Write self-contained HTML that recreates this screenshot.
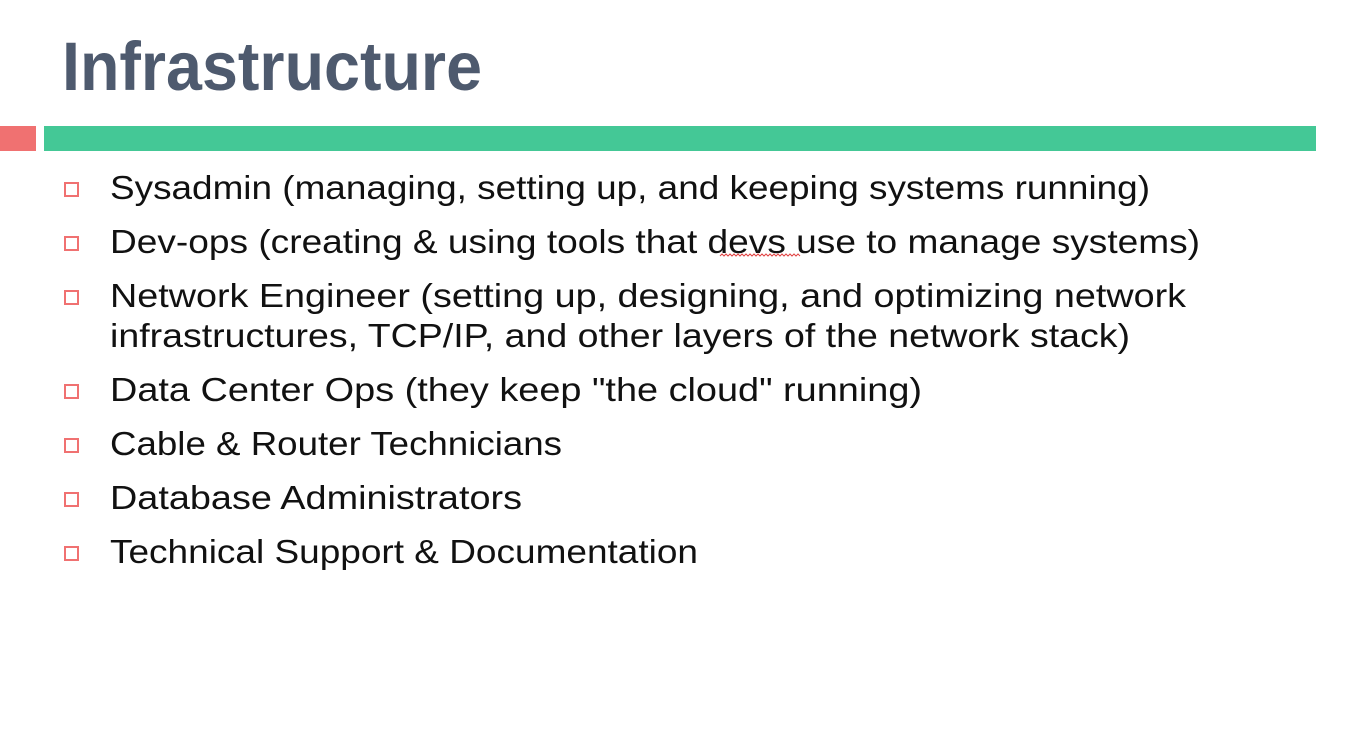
<!DOCTYPE html>
<html><head><meta charset="utf-8"><style>
html,body{margin:0;padding:0;background:#fff;width:1348px;height:750px;overflow:hidden}
svg{display:block}
text{font-family:"Liberation Sans",sans-serif}
</style></head><body>
<svg width="1348" height="750" viewBox="0 0 1348 750" xmlns="http://www.w3.org/2000/svg">
<text x="62" y="90" font-size="69" font-weight="bold" fill="#4e5a6e" textLength="420" lengthAdjust="spacingAndGlyphs">Infrastructure</text>
<rect x="0" y="126" width="36" height="25" fill="#f07171"/>
<rect x="44" y="126" width="1272" height="25" fill="#44c896"/>
<g fill="none" stroke="#f07171" stroke-width="2">
<rect x="65" y="183" width="13" height="13"/>
<rect x="65" y="237" width="13" height="13"/>
<rect x="65" y="291" width="13" height="13"/>
<rect x="65" y="385" width="13" height="13"/>
<rect x="65" y="439" width="13" height="13"/>
<rect x="65" y="493" width="13" height="13"/>
<rect x="65" y="547" width="13" height="13"/>
</g>
<g font-size="33" fill="#111">
<text x="110" y="199" textLength="1040" lengthAdjust="spacingAndGlyphs">Sysadmin (managing, setting up, and keeping systems running)</text>
<text x="110" y="253" textLength="1090" lengthAdjust="spacingAndGlyphs">Dev-ops (creating &amp; using tools that devs use to manage systems)</text>
<text x="110" y="307" textLength="1076" lengthAdjust="spacingAndGlyphs">Network Engineer (setting up, designing, and optimizing network</text>
<text x="110" y="347" textLength="1020" lengthAdjust="spacingAndGlyphs">infrastructures, TCP/IP, and other layers of the network stack)</text>
<text x="110" y="401" textLength="812" lengthAdjust="spacingAndGlyphs">Data Center Ops (they keep "the cloud" running)</text>
<text x="110" y="455" textLength="452" lengthAdjust="spacingAndGlyphs">Cable &amp; Router Technicians</text>
<text x="110" y="509" textLength="412" lengthAdjust="spacingAndGlyphs">Database Administrators</text>
<text x="110" y="563" textLength="588" lengthAdjust="spacingAndGlyphs">Technical Support &amp; Documentation</text>
</g>
<path d="M720 256 l2 -2 l2 2 l2 -2 l2 2 l2 -2 l2 2 l2 -2 l2 2 l2 -2 l2 2 l2 -2 l2 2 l2 -2 l2 2 l2 -2 l2 2 l2 -2 l2 2 l2 -2 l2 2 l2 -2 l2 2 l2 -2 l2 2 l2 -2 l2 2 l2 -2 l2 2 l2 -2 l2 2 l2 -2 l2 2 l2 -2 l2 2 l2 -2 l2 2 l2 -2 l2 2 l2 -2 l2 2" fill="none" stroke="#e04040" stroke-width="1"/>
</svg>
</body></html>
